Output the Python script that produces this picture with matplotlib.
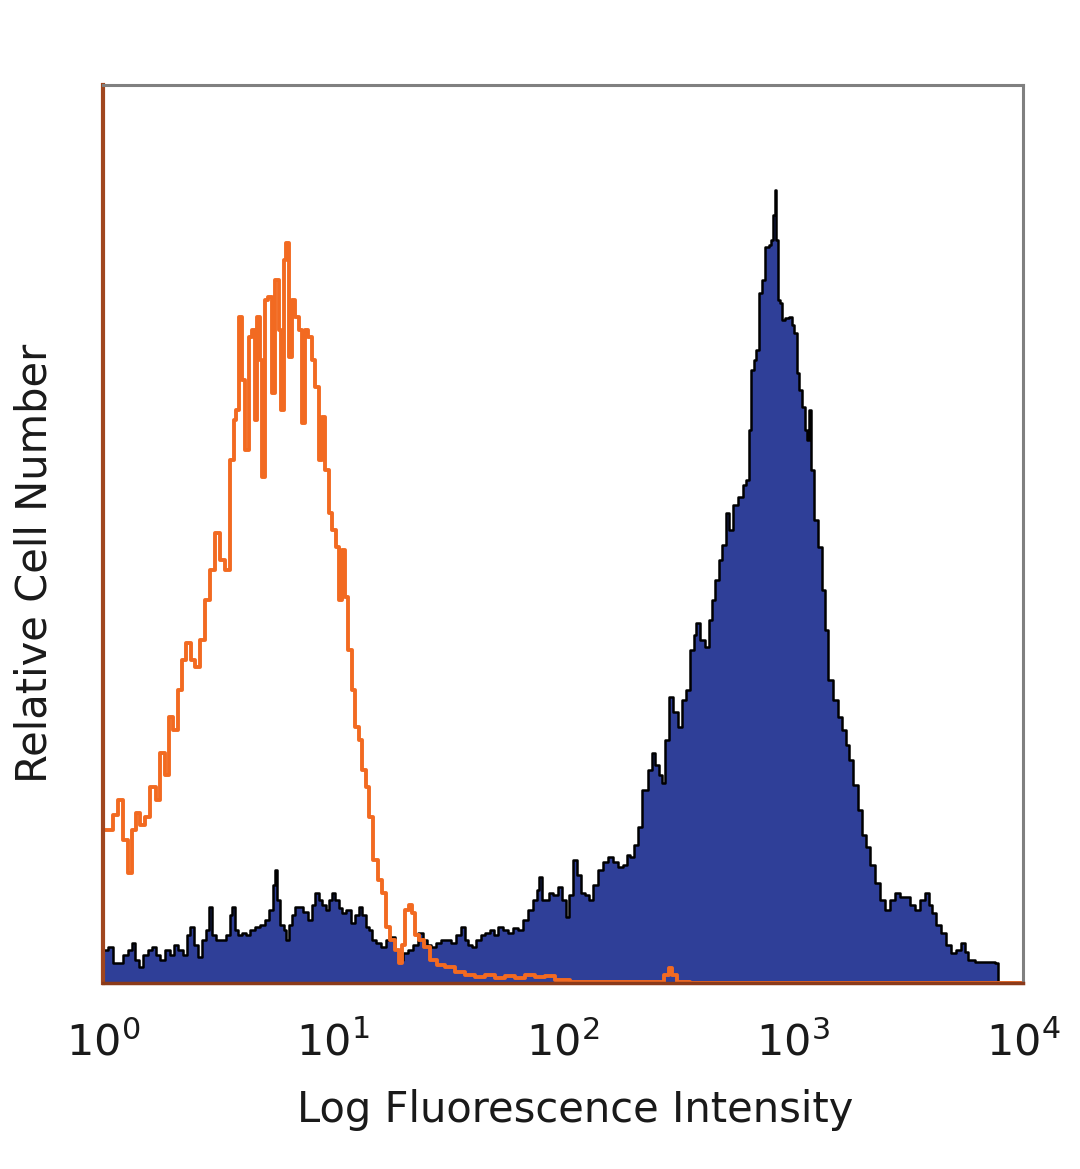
import numpy as np
import matplotlib
matplotlib.use("Agg")
import matplotlib.pyplot as plt

# -----------------------
# Histogram data
# intensity in fluorescence units (log axis), counts in arbitrary units
# -----------------------

iso_px = [105, 110, 115, 120, 125, 130, 134, 137, 142, 147, 153, 158, 162, 167,
          170, 175, 180, 184, 188, 193, 197, 202, 207, 212, 217, 222, 227, 232,
          235, 237, 240, 243, 247, 250, 253, 256, 258, 261, 263, 266, 270, 273,
          277, 280, 282, 285, 287, 290, 293, 297, 300, 303, 306, 310, 313, 317,
          320, 323, 327, 330, 334, 337, 340, 343, 346, 350, 353, 357, 360, 364,
          367, 370, 375, 380, 383, 388, 392, 397, 400, 403, 407, 410, 413, 417,
          420, 427, 433, 440, 450, 460, 470, 480, 490, 500, 510, 520, 530, 540,
          550, 560, 580, 600, 620, 640, 660, 667, 670, 673, 680, 700, 800, 900,
          1000, 1020]
iso_counts = [153, 153, 168, 183, 143, 110, 153, 170, 158, 166, 196, 183, 230, 208,
              266, 253, 293, 323, 340, 323, 316, 343, 383, 413, 450, 423, 413, 523,
              563, 573, 666, 603, 533, 646, 653, 563, 666, 623, 506, 683, 686, 590,
              703, 653, 573, 723, 740, 626, 683, 666, 653, 560, 653, 646, 623, 596,
              523, 566, 513, 470, 453, 436, 383, 433, 386, 333, 293, 256, 243, 213,
              196, 166, 123, 103, 90, 56, 43, 33, 20, 38, 73, 78, 70, 48,
              43, 36, 23, 18, 16, 11, 8, 6, 8, 5, 7, 5, 8, 6,
              7, 3, 1, 1, 1, 1, 1, 8, 15, 8, 1, 0, 0, 0,
              0, 0]

stain_px = [105, 110, 115, 120, 125, 130, 133, 137, 140, 145, 150, 153, 158, 162,
            167, 172, 176, 180, 185, 188, 192, 196, 200, 204, 208, 210, 213, 218,
            223, 228, 231, 233, 236, 240, 243, 248, 252, 257, 262, 267, 271, 274,
            275, 278, 282, 285, 287, 290, 293, 297, 300, 305, 310, 313, 317, 320,
            324, 327, 330, 333, 337, 340, 343, 348, 353, 357, 360, 364, 367, 370,
            373, 378, 383, 388, 393, 397, 400, 405, 410, 415, 420, 425, 428, 433,
            438, 443, 448, 453, 458, 463, 466, 470, 473, 478, 483, 487, 492, 496,
            500, 505, 510, 515, 520, 525, 530, 535, 538, 540, 543, 548, 550, 555,
            560, 564, 567, 570, 575, 578, 583, 587, 590, 595, 600, 605, 610, 615,
            620, 625, 628, 632, 636, 640, 643, 645, 650, 653, 657, 660, 663, 667,
            670, 675, 680, 684, 687, 692, 695, 697, 702, 707, 710, 713, 717, 720,
            724, 727, 730, 735, 740, 745, 747, 750, 752, 755, 757, 760, 763, 767,
            770, 772, 774, 775, 777, 779, 781, 783, 787, 790, 793, 795, 798, 800,
            803, 806, 808, 810, 812, 815, 820, 823, 826, 830, 835, 840, 844, 847,
            850, 855, 860, 864, 867, 872, 877, 882, 887, 892, 897, 902, 907, 912,
            917, 922, 927, 930, 933, 938, 943, 948, 953, 958, 963, 966, 970, 980,
            993, 997, 998]
stain_counts = [33, 36, 20, 20, 28, 33, 40, 23, 16, 28, 33, 36, 28, 23,
                33, 28, 38, 33, 28, 48, 56, 38, 26, 43, 53, 76, 48, 43,
                43, 48, 68, 76, 53, 48, 50, 48, 53, 56, 58, 63, 73, 98,
                113, 83, 58, 53, 43, 58, 68, 76, 76, 71, 63, 78, 90, 83,
                78, 73, 83, 90, 83, 75, 70, 73, 60, 68, 76, 68, 56, 53,
                43, 40, 36, 43, 46, 33, 23, 30, 33, 38, 50, 43, 38, 36,
                40, 43, 43, 40, 48, 56, 43, 38, 36, 43, 48, 50, 53, 48,
                56, 53, 50, 55, 53, 63, 73, 83, 93, 106, 83, 83, 90, 88,
                96, 83, 66, 88, 123, 108, 90, 88, 83, 98, 113, 121, 126, 121,
                116, 118, 128, 126, 138, 156, 193, 193, 213, 230, 218, 208, 200, 243,
                286, 271, 256, 283, 293, 333, 348, 360, 343, 336, 363, 383, 403, 423,
                438, 470, 453, 478, 486, 498, 503, 553, 613, 623, 633, 690, 703, 736,
                738, 743, 768, 793, 743, 683, 680, 663, 665, 666, 658, 650, 610, 593,
                576, 553, 543, 573, 513, 463, 436, 393, 353, 303, 283, 266, 253, 238,
                223, 198, 173, 148, 136, 118, 100, 83, 73, 83, 90, 86, 86, 78,
                73, 83, 90, 78, 70, 58, 50, 38, 30, 33, 40, 31, 23, 21,
                21, 20, 0]

# pixel column -> intensity (axes spans 10^0 .. 10^4 over 920 px)
iso_x = 10 ** ((np.array(iso_px) - 103) / 230)
stain_x = 10 ** ((np.array(stain_px) - 103) / 230)

tick_vals = [1, 10, 100, 1000, 10000]
tick_labels = [r"$10^{0}$", r"$10^{1}$", r"$10^{2}$", r"$10^{3}$", r"$10^{4}$"]

# -----------------------
# Plot
# -----------------------

fig = plt.figure(figsize=(10.8, 11.69), dpi=100)
ax = fig.add_axes([103 / 1080, 1 - 983 / 1169, 920 / 1080, 898 / 1169])

ax.fill_between(stain_x, stain_counts, step="mid", color="#2f3f98", lw=0)
ax.step(stain_x, stain_counts, where="mid", color="black", lw=1.8)
ax.step(iso_x, iso_counts, where="mid", color="#f26a21", lw=2.8)

ax.set_xscale("log")
ax.set_xlim(1, 10000)
ax.set_ylim(0, 898)
ax.set_xticks(tick_vals)
ax.set_xticklabels(tick_labels, fontsize=31, color="#1a1a1a")
ax.minorticks_off()
ax.set_yticks([])
ax.tick_params(axis="x", length=0, pad=28)

for side in ["top", "right"]:
    ax.spines[side].set_color("#808080")
    ax.spines[side].set_linewidth(2.2)
ax.spines["left"].set_color("#a0461e")
ax.spines["left"].set_linewidth(3)
ax.spines["bottom"].set_color("#8b3a1a")
ax.spines["bottom"].set_linewidth(2.5)

fig.text(575 / 1080, 1 - 1110 / 1169, "Log Fluorescence Intensity",
         ha="center", va="center", fontsize=30, color="#1a1a1a")
fig.text(35 / 1080, 1 - 563 / 1169, "Relative Cell Number",
         ha="center", va="center", rotation=90, fontsize=30, color="#1a1a1a")

fig.savefig("out.png", dpi=100)
